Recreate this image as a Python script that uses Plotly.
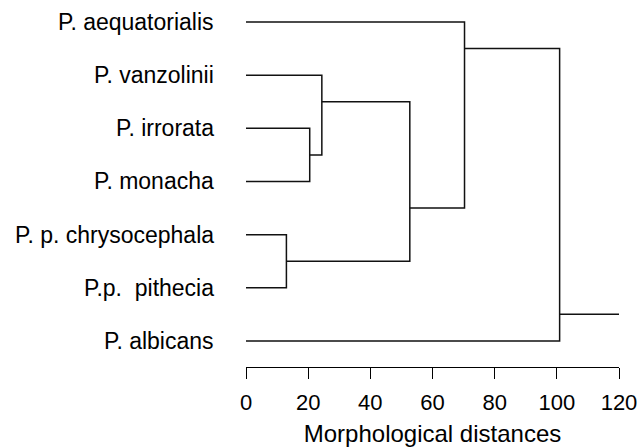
import plotly.graph_objects as go

# ---- data ----
leaves = ["P. aequatorialis", "P. vanzolinii", "P. irrorata", "P. monacha",
          "P. p. chrysocephala", "P.p.\u00a0 pithecia", "P. albicans"]
merge_names = ["N1", "N2", "N3", "N4", "N5", "N6"]
merge_top = ["P. irrorata", "P. vanzolinii", "P. p. chrysocephala", "N2",
             "P. aequatorialis", "N5"]
merge_bottom = ["P. monacha", "N1", "P.p.\u00a0 pithecia", "N3", "N4", "P. albicans"]
merge_height = [20.5, 24.4, 13.0, 52.7, 70.3, 100.9]
root_extent = 120
x_ticks = [0, 20, 40, 60, 80, 100, 120]
x_title = "Morphological distances"

# ---- dendrogram geometry (computed) ----
node_x = {name: 0.0 for name in leaves}
node_y = {name: float(i) for i, name in enumerate(leaves)}
span = {name: (i, i) for i, name in enumerate(leaves)}
xs, ys = [], []
for name, top, bot, h in zip(merge_names, merge_top, merge_bottom, merge_height):
    first = span[top][0]
    last = span[bot][1]
    span[name] = (first, last)
    node_x[name] = h
    node_y[name] = (span[top][1] + span[bot][0]) / 2.0
    # horizontal from top child, vertical, horizontal from bottom child
    xs += [node_x[top], h, h, node_x[bot], None]
    ys += [node_y[top], node_y[top], node_y[bot], node_y[bot], None]
root = merge_names[-1]
xs += [node_x[root], root_extent, None]
ys += [node_y[root], node_y[root], None]

fig = go.Figure()
fig.add_trace(go.Scatter(x=xs, y=ys, mode="lines",
                         line=dict(color="#111111", width=1.5),
                         hoverinfo="skip", showlegend=False, cliponaxis=False))

font_family = "Liberation Sans, Arial, Helvetica, sans-serif"
for i, name in enumerate(leaves):
    fig.add_annotation(x=0, y=i, xref="x", yref="y", text=name,
                       showarrow=False, xanchor="right", yanchor="middle",
                       xshift=-30, font=dict(family=font_family, size=23, color="black"))

fig.update_layout(
    width=642, height=448,
    margin=dict(l=246, r=23, t=10, b=81),
    paper_bgcolor="white", plot_bgcolor="white",
    font=dict(family=font_family, color="black"),
    xaxis=dict(range=[0, 120], tickvals=x_ticks, ticks="outside", ticklen=11,
               tickwidth=1, tickcolor="black", showline=True, linecolor="black",
               linewidth=1, showgrid=False, zeroline=False, ticklabelstandoff=5,
               automargin=False, ticklabeloverflow="allow",
               tickfont=dict(size=22, color="black"),
               title=dict(text=x_title, font=dict(size=24, color="black"), standoff=10)),
    yaxis=dict(range=[6.49, -0.226], visible=False, showgrid=False, zeroline=False,
               automargin=False),
)

fig.write_html("out.html")
